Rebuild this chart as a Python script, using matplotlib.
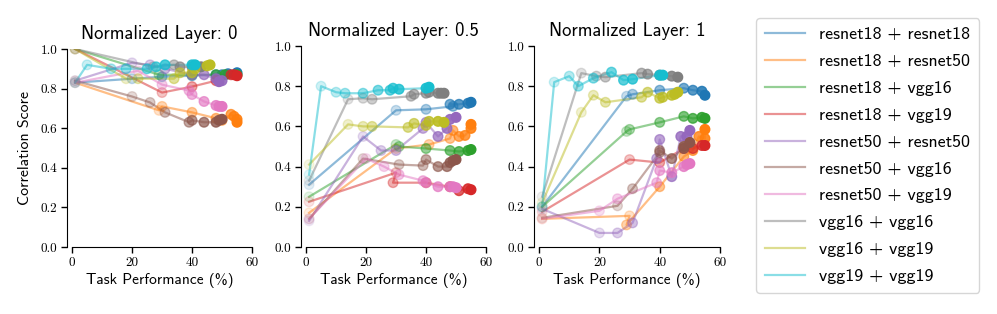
import numpy as np
import matplotlib
matplotlib.use("Agg")
import matplotlib.pyplot as plt
from matplotlib.lines import Line2D

pairs = ["resnet18 + resnet18", "resnet18 + resnet50", "resnet18 + vgg16",
         "resnet18 + vgg19", "resnet50 + resnet50", "resnet50 + vgg16",
         "resnet50 + vgg19", "vgg16 + vgg16", "vgg16 + vgg19", "vgg19 + vgg19"]
colors = ["#1f77b4", "#ff7f0e", "#2ca02c", "#d62728", "#9467bd",
          "#8c564b", "#e377c2", "#7f7f7f", "#bcbd22", "#17becf"]
layers = ["0", "0.5", "1"]

# ---- Normalized layer 0 ----
L0_x = {
    "resnet18 + resnet18": [1, 20, 30, 40, 48, 50, 52, 55],
    "resnet18 + resnet50": [1, 29, 30, 40, 48, 50, 53, 54, 55, 55],
    "resnet18 + vgg16": [1, 29, 40, 48, 51, 55],
    "resnet18 + vgg19": [1, 30, 40, 48, 53, 54, 55],
    "resnet50 + resnet50": [1, 20, 26, 31, 40, 44, 48, 50, 49],
    "resnet50 + vgg16": [1, 20, 26, 31, 39, 40, 44, 48, 49, 50],
    "resnet50 + vgg19": [1, 22, 30, 39, 40, 44, 48, 49, 50],
    "vgg16 + vgg16": [1, 27, 34, 36, 40, 43],
    "vgg16 + vgg19": [1, 18, 22, 34, 36, 40, 41, 45, 46],
    "vgg19 + vgg19": [1, 5, 13, 18, 25, 28, 31, 40, 41],
}
L0_y = {
    "resnet18 + resnet18": [0.83, 0.85, 0.86, 0.865, 0.87, 0.87, 0.875, 0.88],
    "resnet18 + resnet50": [0.83, 0.69, 0.71, 0.68, 0.65, 0.64, 0.67, 0.66, 0.645, 0.63],
    "resnet18 + vgg16": [1.0, 0.87, 0.87, 0.87, 0.87, 0.87],
    "resnet18 + vgg19": [1.0, 0.78, 0.81, 0.84, 0.87, 0.87, 0.865],
    "resnet50 + resnet50": [0.84, 0.93, 0.92, 0.90, 0.87, 0.87, 0.85, 0.84, 0.835],
    "resnet50 + vgg16": [0.84, 0.76, 0.73, 0.68, 0.63, 0.64, 0.63, 0.63, 0.64, 0.645],
    "resnet50 + vgg19": [0.83, 0.89, 0.82, 0.79, 0.77, 0.735, 0.715, 0.71, 0.71],
    "vgg16 + vgg16": [1.0, 0.91, 0.92, 0.91, 0.91, 0.91],
    "vgg16 + vgg19": [1.0, 0.85, 0.85, 0.85, 0.88, 0.88, 0.90, 0.915, 0.92],
    "vgg19 + vgg19": [0.83, 0.92, 0.90, 0.90, 0.90, 0.91, 0.92, 0.92, 0.92],
}

# ---- Normalized layer 0.5 ----
L05_x = {
    "resnet18 + resnet18": [1, 30, 40, 49, 48, 51, 54, 55],
    "resnet18 + resnet50": [1, 30, 41, 48, 49, 51, 53, 55, 55],
    "resnet18 + vgg16": [1, 30, 31, 40, 48, 51, 54, 55],
    "resnet18 + vgg19": [1, 30, 29, 40, 48, 51, 54, 55],
    "resnet50 + resnet50": [1, 19, 25, 30, 39, 40, 44, 47, 48, 50],
    "resnet50 + vgg16": [1, 19, 31, 39, 40, 44, 47, 48, 49, 50],
    "resnet50 + vgg19": [1, 20, 26, 31, 39, 40, 44, 48, 49, 50],
    "vgg16 + vgg16": [1, 14, 19, 22, 35, 36, 40, 41, 44, 45, 46],
    "vgg16 + vgg19": [1, 14, 19, 22, 34, 36, 40, 41, 44, 46],
    "vgg19 + vgg19": [1, 5, 10, 13, 19, 24, 28, 29, 31, 40, 41],
}
L05_y = {
    "resnet18 + resnet18": [0.31, 0.68, 0.685, 0.70, 0.71, 0.71, 0.715, 0.72],
    "resnet18 + resnet50": [0.17, 0.49, 0.51, 0.54, 0.58, 0.55, 0.555, 0.59, 0.61],
    "resnet18 + vgg16": [0.25, 0.51, 0.50, 0.49, 0.48, 0.475, 0.48, 0.485],
    "resnet18 + vgg19": [0.225, 0.37, 0.32, 0.32, 0.30, 0.28, 0.29, 0.285],
    "resnet50 + resnet50": [0.13, 0.55, 0.48, 0.48, 0.59, 0.62, 0.55, 0.59, 0.635, 0.645],
    "resnet50 + vgg16": [0.14, 0.44, 0.41, 0.405, 0.435, 0.40, 0.40, 0.42, 0.43, 0.435],
    "resnet50 + vgg19": [0.14, 0.44, 0.40, 0.36, 0.33, 0.32, 0.30, 0.30, 0.30, 0.295],
    "vgg16 + vgg16": [0.33, 0.735, 0.74, 0.735, 0.75, 0.76, 0.765, 0.77, 0.765, 0.765, 0.765],
    "vgg16 + vgg19": [0.41, 0.61, 0.60, 0.60, 0.595, 0.615, 0.605, 0.625, 0.625, 0.62],
    "vgg19 + vgg19": [0.36, 0.80, 0.77, 0.765, 0.765, 0.78, 0.78, 0.79, 0.785, 0.79, 0.795],
}

# ---- Normalized layer 1 ----
L1_x = {
    "resnet18 + resnet18": [1, 29, 31, 40, 48, 51, 54, 55],
    "resnet18 + resnet50": [1, 30, 29, 40, 48, 51, 53, 55, 55],
    "resnet18 + vgg16": [1, 29, 30, 40, 48, 51, 54, 55],
    "resnet18 + vgg19": [1, 30, 40, 48, 51, 54, 55],
    "resnet50 + resnet50": [1, 20, 26, 31, 39, 40, 44, 47, 49, 50],
    "resnet50 + vgg16": [1, 26, 31, 40, 40, 44, 48, 48, 50],
    "resnet50 + vgg19": [1, 20, 26, 39, 40, 44, 48, 49, 50],
    "vgg16 + vgg16": [1, 14, 19, 22, 34, 36, 40, 44, 46],
    "vgg16 + vgg19": [1, 14, 18, 22, 34, 36, 40, 41, 44, 45, 46],
    "vgg19 + vgg19": [1, 5, 10, 13, 18, 24, 28, 31, 40, 41],
}
L1_y = {
    "resnet18 + resnet18": [0.20, 0.75, 0.76, 0.78, 0.79, 0.78, 0.775, 0.755],
    "resnet18 + resnet50": [0.14, 0.155, 0.11, 0.30, 0.45, 0.48, 0.55, 0.54, 0.585],
    "resnet18 + vgg16": [0.20, 0.575, 0.585, 0.62, 0.65, 0.64, 0.645, 0.64],
    "resnet18 + vgg19": [0.175, 0.435, 0.42, 0.49, 0.49, 0.505, 0.505],
    "resnet50 + resnet50": [0.19, 0.07, 0.07, 0.12, 0.44, 0.535, 0.35, 0.55, 0.55, 0.58],
    "resnet50 + vgg16": [0.145, 0.205, 0.29, 0.47, 0.48, 0.44, 0.49, 0.50, 0.52],
    "resnet50 + vgg19": [0.14, 0.18, 0.24, 0.32, 0.38, 0.37, 0.40, 0.41, 0.415],
    "vgg16 + vgg16": [0.25, 0.865, 0.85, 0.845, 0.865, 0.86, 0.855, 0.85, 0.845],
    "vgg16 + vgg19": [0.22, 0.67, 0.755, 0.72, 0.745, 0.77, 0.74, 0.745, 0.755, 0.76, 0.77],
    "vgg19 + vgg19": [0.20, 0.82, 0.85, 0.80, 0.84, 0.87, 0.83, 0.835, 0.855, 0.855],
}

data_x = [L0_x, L05_x, L1_x]
data_y = [L0_y, L05_y, L1_y]

xticks = [0, 20, 40, 60]
yticks = [0.0, 0.2, 0.4, 0.6, 0.8, 1.0]

W, H = 997, 314
fig = plt.figure(figsize=(W / 100, H / 100), dpi=100)

# pixel boxes: (left, top, right, bottom)
boxes = [(67, 49, 252, 247), (301, 46, 486, 247), (534, 46, 720, 247)]
sans = ["cmss10", "DejaVu Sans"]
serif = ["cmr10", "DejaVu Serif"]

for i, (l, t, r, b) in enumerate(boxes):
    ax = fig.add_axes([l / W, (H - b) / H, (r - l) / W, (b - t) / H])
    for name, c in zip(pairs, colors):
        xs = np.array(data_x[i][name], dtype=float)
        ys = np.array(data_y[i][name], dtype=float)
        ax.plot(xs, ys, color=c, alpha=0.5, lw=1.6, zorder=2)
        n = len(xs)
        alphas = np.linspace(0.12, 1.0, n)
        rgba = [matplotlib.colors.to_rgba(c, a) for a in alphas]
        ax.scatter(xs, ys, s=48, c=rgba, edgecolors=rgba, linewidths=1.0, zorder=3)
    ax.set_xlim(-1.7, 60)
    ax.set_ylim(0, 1)
    ax.set_xticks(xticks)
    ax.set_xticklabels([str(v) for v in xticks], family=serif, fontsize=9.5)
    ax.set_yticks(yticks)
    ax.set_yticklabels([f"{v:.1f}" for v in yticks], family=serif, fontsize=9.5)
    ax.spines["top"].set_visible(False)
    ax.spines["right"].set_visible(False)
    ax.spines["bottom"].set_bounds(0, 60)
    ax.spines["left"].set_bounds(0, 1)
    ax.tick_params(length=4, width=1, pad=3)
    ax.set_title(f"Normalized Layer: {layers[i]}", family=sans, fontsize=13.4, pad=7)
    ax.set_xlabel("Task Performance (%)", family=sans, fontsize=11.1, labelpad=3)
    if i == 0:
        ax.set_ylabel("Correlation Score", family=sans, fontsize=11.4, labelpad=6)

handles = [Line2D([0], [0], color=c, alpha=0.5, lw=1.6) for c in colors]
leg = fig.legend(handles, pairs, loc="upper left",
                 bbox_to_anchor=(756 / W, 1 - 18 / H), borderaxespad=0,
                 prop={"family": sans, "size": 12.9},
                 handlelength=2.23, handletextpad=0.8, labelspacing=0.63,
                 borderpad=0.5, frameon=True, fancybox=True,
                 edgecolor="#cccccc")

fig.savefig("out.png", dpi=100)
